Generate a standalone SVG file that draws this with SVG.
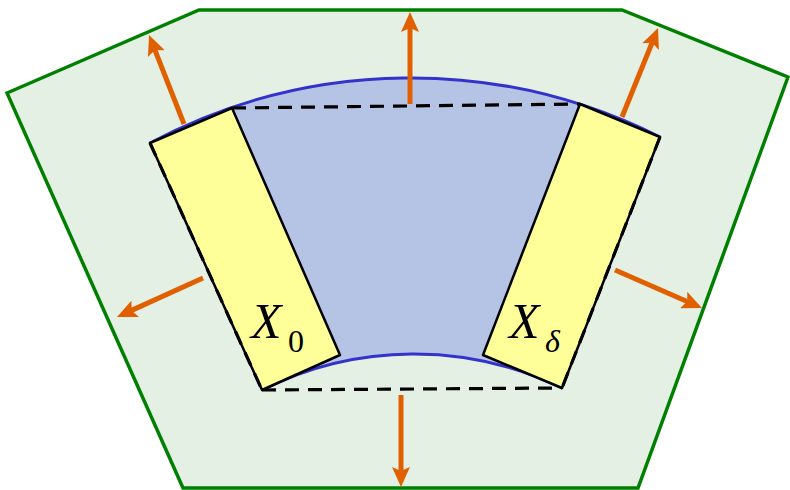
<svg xmlns="http://www.w3.org/2000/svg" width="790" height="490" viewBox="0 0 790 490">
<style>
.frame{fill:#e5f0e5;stroke:#008000;stroke-width:3.5;stroke-linejoin:miter}
.sector{fill:#b5c3e5;stroke:none}
.arc{fill:none;stroke:#3333cc;stroke-width:3}
.bar{fill:#ffff99;stroke:#000;stroke-width:2.5;stroke-linejoin:round}
.dash{fill:none;stroke:#000;stroke-width:3.2;stroke-dasharray:14,9}
.arrow{stroke:#e06000;stroke-width:5;fill:none;marker-end:url(#head)}
.lbl{font-family:"Liberation Serif","Times New Roman",serif;fill:#000}
</style>
<defs>
<marker id="head" markerUnits="userSpaceOnUse" markerWidth="20" markerHeight="18" viewBox="0 0 20 18" refX="10" refY="9" orient="auto">
<path d="M0,0 L20,9 L0,18 L4,9 z" fill="#e06000"/>
</marker>
</defs>
<g id="domain">
<polygon class="frame" points="7,93 199,10 622,10 788,77 638,488 183,488"/>
</g>
<g id="sector">
<path class="sector" d="M150,143 A555,555 0 0 1 660,137 L562,388 A339,339 0 0 0 262,390 Z"/>
<path class="arc" d="M150,143 A555,555 0 0 1 660,137"/>
<path class="arc" d="M262,390 A339,339 0 0 1 562,388"/>
</g>
<g id="bar-left">
<polygon class="bar" points="150,143 232,108 340,355 262,390"/>
<text class="lbl" x="251" y="338" font-size="50" font-style="italic">X</text>
<text class="lbl" x="288" y="352" font-size="32">0</text>
</g>
<g id="bar-right">
<polygon class="bar" points="580,104 660,137 562,388 483,355"/>
<text class="lbl" x="509" y="338" font-size="50" font-style="italic">X</text>
<text class="lbl" x="545" y="352" font-size="32" font-style="italic">δ</text>
</g>
<g id="dashed-outline">
<path class="dash" d="M232,108 L580,104"/>
<path class="dash" d="M660,137 L562,388"/>
<path class="dash" d="M262,390 L562,388"/>
<path class="dash" d="M150,143 L262,390"/>
</g>
<g id="connectors">
<line class="arrow" x1="410" y1="104" x2="410" y2="22"/>
<line class="arrow" x1="184" y1="124" x2="152.7" y2="44.3"/>
<line class="arrow" x1="622" y1="117" x2="654.3" y2="37.3"/>
<line class="arrow" x1="203" y1="278" x2="126.1" y2="312.9"/>
<line class="arrow" x1="615" y1="270" x2="692.8" y2="304"/>
<line class="arrow" x1="401" y1="395" x2="401" y2="477"/>
</g>
</svg>
